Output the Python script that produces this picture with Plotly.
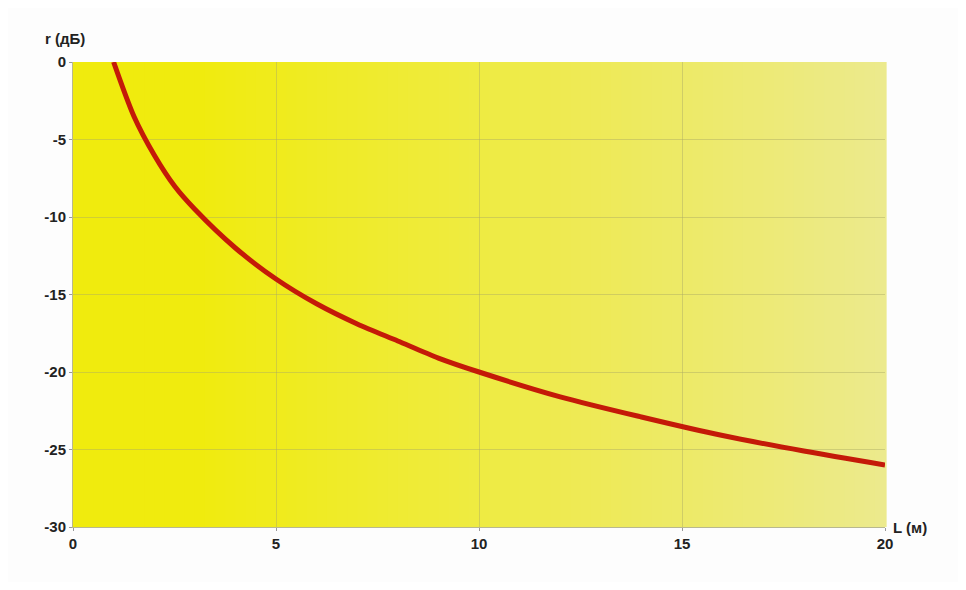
import plotly.graph_objects as go

# Data
L_m = [1, 1.5, 2, 2.5, 3, 4, 5, 6, 7, 8, 9, 10, 12, 14, 16, 18, 20]
r_db = [0, -3.5, -6, -8, -9.5, -12, -14, -15.6, -16.9, -18, -19.1, -20,
        -21.6, -22.9, -24.1, -25.1, -26]
x_ticks = [0, 5, 10, 15, 20]
y_ticks = [0, -5, -10, -15, -20, -25, -30]
y_labels = ["0", "-5", "-10", "-15", "-20", "-25", "-30"]

fig = go.Figure()
fig.add_trace(go.Scatter(x=L_m, y=r_db, mode="lines",
                         line=dict(color="#c41a08", width=5, shape="spline", smoothing=0.8),
                         hoverinfo="skip", showlegend=False))

# gradient background via thin vertical strips
shapes = []
n = 80
c0 = (240, 235, 14)
c1 = (236, 234, 140)
for i in range(n):
    t = i / (n - 1)
    tt = max(0.0, (t - 0.15) / 0.85)
    c = tuple(int(round(c0[k] + (c1[k] - c0[k]) * tt)) for k in range(3))
    shapes.append(dict(type="rect", xref="x domain", yref="y domain",
                       x0=i / n, x1=(i + 1) / n + 0.002, y0=0, y1=1,
                       fillcolor="rgb(%d,%d,%d)" % c, line=dict(width=0),
                       layer="below"))

tf = dict(family="Liberation Sans, Arial", size=15, color="#222222", weight="bold")
fig.update_layout(
    width=950, height=574,
    margin=dict(l=65, r=73, t=54, b=55),
    paper_bgcolor="#fdfdfd",
    plot_bgcolor="rgba(0,0,0,0)",
    shapes=shapes,
    font=tf,
    xaxis=dict(range=[0, 20], tickvals=x_ticks, showgrid=True,
               gridcolor="rgba(170,170,100,0.45)", gridwidth=1,
               zeroline=False, showline=True, linecolor="#b8b890", linewidth=1,
               ticks="outside", ticklen=3, tickcolor="#999", tickfont=tf),
    yaxis=dict(range=[-30, 0], tickvals=y_ticks, ticktext=y_labels, showgrid=True,
               gridcolor="rgba(170,170,100,0.45)", gridwidth=1,
               zeroline=False, showline=True, linecolor="#b8b890", linewidth=1,
               ticks="outside", ticklen=3, tickcolor="#999", tickfont=tf),
    annotations=[
        dict(text="r (дБ)", xref="paper", yref="paper", x=0, y=1.0,
             xshift=14, yshift=24, xanchor="right", yanchor="middle",
             showarrow=False, font=tf),
        dict(text="L (м)", xref="paper", yref="paper", x=1.0, y=0.0,
             xshift=6, xanchor="left", yanchor="middle", showarrow=False, font=tf),
    ],
)
fig.write_html("out.html")
